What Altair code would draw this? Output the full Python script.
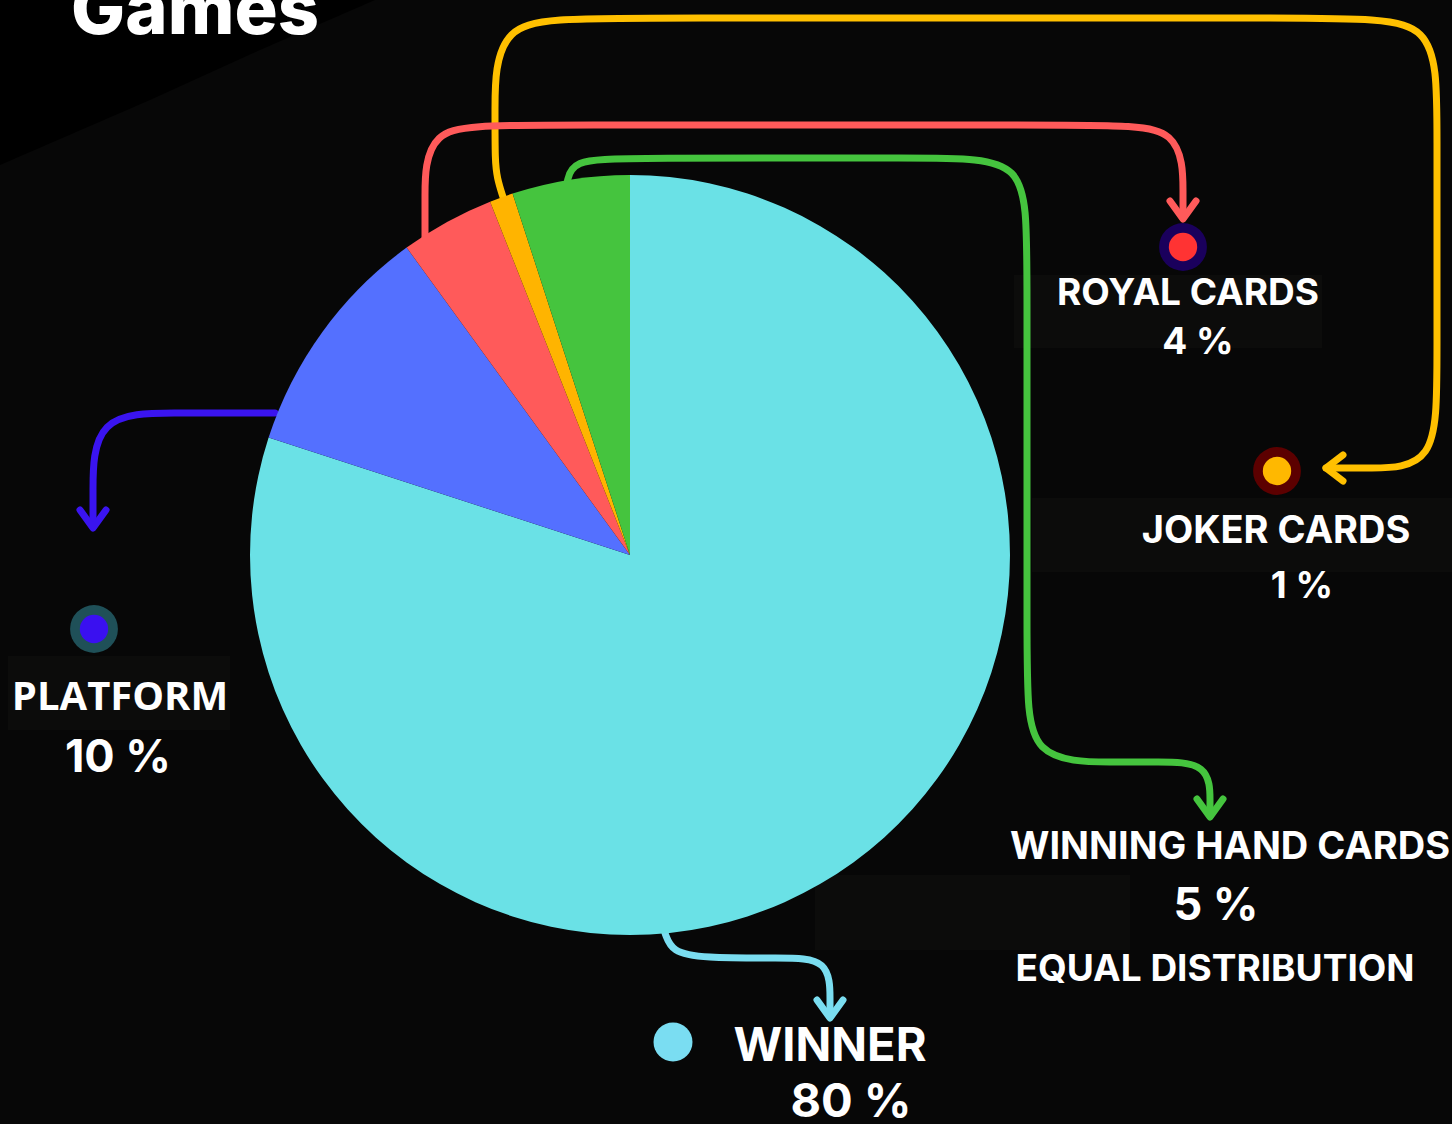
import altair as alt
import pandas as pd

W, H = 1452, 1124

# ---- data ----
categories = ["WINNER", "PLATFORM", "ROYAL CARDS", "JOKER CARDS", "WINNING HAND CARDS"]
shares = [80, 10, 4, 1, 5]
slice_colors = ["#6AE1E6", "#5470FF", "#FF5A5A", "#FFB400", "#45C43E"]
title_text = "Games"
label_names = ["ROYAL CARDS", "JOKER CARDS", "PLATFORM", "WINNING HAND CARDS", "WINNER"]
label_values = ["4 %", "1 %", "10 %", "5 %", "80 %"]
extra_note = "EQUAL DISTRIBUTION"

# ---- layout (pixel space) ----
xs = alt.Scale(domain=[0, W], range=[0, W])
ys = alt.Scale(domain=[0, H], range=[0, H])
CX, CY, R = 630, 555, 380


def X(f="x"):
    return alt.X(f"{f}:Q", scale=xs, axis=None)


def Y(f="y"):
    return alt.Y(f"{f}:Q", scale=ys, axis=None)


layers = []

# darker corner region at top-left
corner = pd.DataFrame({"x": [0, 150, 260, 375], "y": [165, 100, 50, 0]})
layers.append(alt.Chart(corner).mark_area(color="#000000", interpolate="linear").encode(
    x=X(), y=Y(), y2=alt.datum(0)))

# label background boxes
boxes = pd.DataFrame({
    "x": [1014, 1032, 8, 815],
    "x2": [1322, 1452, 230, 1130],
    "y": [275, 498, 656, 875],
    "y2": [348, 572, 730, 950],
})
layers.append(alt.Chart(boxes).mark_rect(color="#0C0C0B").encode(
    x=X(), x2="x2:Q", y=Y(), y2="y2:Q"))

LW = 7


def path_layer(pts, color, interp="basis", width=LW):
    df = pd.DataFrame({"x": [p[0] for p in pts], "y": [p[1] for p in pts],
                       "i": list(range(len(pts)))})
    return alt.Chart(df).mark_line(interpolate=interp, color=color, strokeWidth=width,
                                   strokeCap="round", strokeJoin="round").encode(
        x=X(), y=Y(), order="i:Q")


def down_arrow(x, y, color):
    return path_layer([(x - 13, y - 18), (x, y), (x + 13, y - 18)], color, "linear")


# connectors
yellow = "#FFC000"
red = "#FF5A5A"
green = "#45C43E"
blue = "#3A14F0"
cyan = "#7ADDF0"

layers.append(path_layer([(503, 197), (497, 178), (495, 160), (495, 118), (495, 18), (595, 18),
                          (1337, 18), (1437, 18), (1437, 118), (1437, 368), (1437, 468),
                          (1367, 468), (1326, 468)], yellow))
layers.append(path_layer([(1343, 455), (1326, 468), (1343, 481)], yellow, "linear"))

layers.append(path_layer([(425, 238), (425, 225), (425, 205), (425, 125), (510, 125), (1098, 125),
                          (1183, 125), (1183, 200), (1183, 218)], red))
layers.append(down_arrow(1183, 219, red))

layers.append(path_layer([(567, 183), (572, 160), (625, 158), (935, 158), (1027, 158),
                          (1027, 250), (1027, 670), (1027, 762), (1119, 762), (1155, 762),
                          (1210, 762), (1210, 805), (1210, 816)], green))
layers.append(down_arrow(1210, 817, green))

layers.append(path_layer([(275, 413), (240, 413), (178, 413), (93, 413), (93, 498),
                          (93, 527)], blue))
layers.append(down_arrow(93, 528, blue))

layers.append(path_layer([(665, 933), (672, 952), (702, 958), (780, 958), (830, 958),
                          (830, 1003), (830, 1017)], cyan))
layers.append(down_arrow(830, 1018, cyan))

# pie
pie_df = pd.DataFrame({"cat": categories, "share": shares, "ord": list(range(len(categories)))})
layers.append(alt.Chart(pie_df).mark_arc(outerRadius=R).encode(
    theta=alt.Theta("share:Q", stack=True),
    order=alt.Order("ord:Q"),
    color=alt.Color("cat:N", scale=alt.Scale(domain=categories, range=slice_colors), legend=None),
    x=alt.value(CX), y=alt.value(CY)))


# markers
def circle_layer(x, y, r, color):
    df = pd.DataFrame({"x": [x], "y": [y]})
    return alt.Chart(df).mark_circle(color=color, opacity=1, size=3.1416 * r * r).encode(x=X(), y=Y())


layers += [
    circle_layer(1183, 247, 27, "#1A005C"), circle_layer(1183, 247, 16, "#FF3333"),
    circle_layer(1277, 471, 27, "#5C0000"), circle_layer(1277, 471, 16, "#FFB800"),
    circle_layer(94, 629, 27, "#1F5058"), circle_layer(94, 629, 16, "#3A10F0"),
    circle_layer(673, 1042, 22, "#7ADDF2"),
]


def text_layer(txt, x, y, size, font="Inter", weight=700, baseline="middle"):
    df = pd.DataFrame({"x": [x], "y": [y], "t": [txt]})
    return alt.Chart(df).mark_text(font=font, fontSize=size, fontWeight=weight, color="#FFFFFF",
                                   align="center", baseline=baseline).encode(
        x=X(), y=Y(), text="t:N")


layers += [
    text_layer(title_text, 195, 34, 72, weight=800, baseline="alphabetic"),
    text_layer(label_names[0], 1188, 294, 37),
    text_layer(label_values[0], 1198, 343, 37),
    text_layer(label_names[1], 1276, 532, 38),
    text_layer(label_values[1], 1302, 587, 37),
    text_layer(label_names[2], 120, 698, 40, font="Open Sans"),
    text_layer(label_values[2], 118, 758, 45),
    text_layer(label_names[3], 1230, 848, 38),
    text_layer(label_values[3], 1216, 906, 45),
    text_layer(extra_note, 1215, 970, 37),
    text_layer(label_names[4], 830, 1047, 47),
    text_layer(label_values[4], 851, 1103, 47),
]

chart = alt.layer(*layers).properties(
    width=W, height=H, background="#070707", padding=0,
    autosize=alt.AutoSizeParams(type="none"),
).configure_view(stroke=None)

chart.save("out.html", embed_options={"renderer": "svg", "actions": False})
